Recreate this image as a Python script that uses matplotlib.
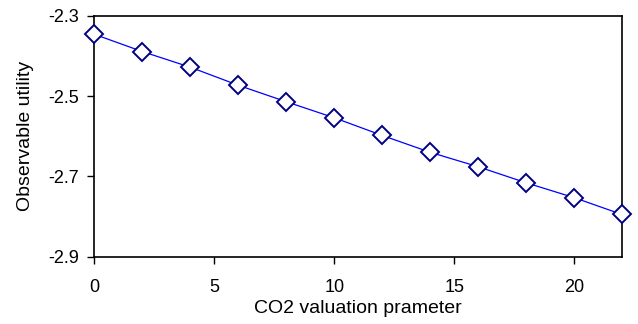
import matplotlib

matplotlib.use('Agg')
import matplotlib.pyplot as plt

# --- Data ---
co2_param = [0, 2, 4, 6, 8, 10, 12, 14, 16, 18, 20, 22]
utility = [-2.346, -2.389, -2.428, -2.473, -2.514, -2.554,
           -2.598, -2.640, -2.676, -2.716, -2.753, -2.795]
x_ticks = [0, 5, 10, 15, 20]
y_ticks = [-2.9, -2.7, -2.5, -2.3]

plt.rcParams['font.family'] = ['Liberation Sans', 'DejaVu Sans']
plt.rcParams['font.size'] = 13

fig = plt.figure(figsize=(6.38, 3.24), dpi=100)
ax = fig.add_axes([0.148, 0.208, 0.827, 0.743])

ax.plot(co2_param, utility, color='#0000ff', linewidth=0.9, marker='D',
        markersize=9.5, markerfacecolor='white', markeredgecolor='#000080',
        markeredgewidth=1.4, clip_on=False, zorder=3)

ax.set_xlim(0, 22)
ax.set_ylim(-2.9, -2.3)
ax.set_xticks(x_ticks)
ax.set_yticks(y_ticks)
ax.set_yticklabels([f'{v:.1f}' for v in y_ticks])
ax.tick_params(direction='out', length=5, width=1, top=False, right=False)
ax.tick_params(axis='x', pad=11)
ax.tick_params(axis='y', pad=6)
for s in ax.spines.values():
    s.set_linewidth(1.2)

ax.set_xlabel('CO2 valuation prameter', fontsize=14, labelpad=3)
ax.set_ylabel('Observable utility', fontsize=14, labelpad=10)

fig.savefig('out.png', dpi=100)
